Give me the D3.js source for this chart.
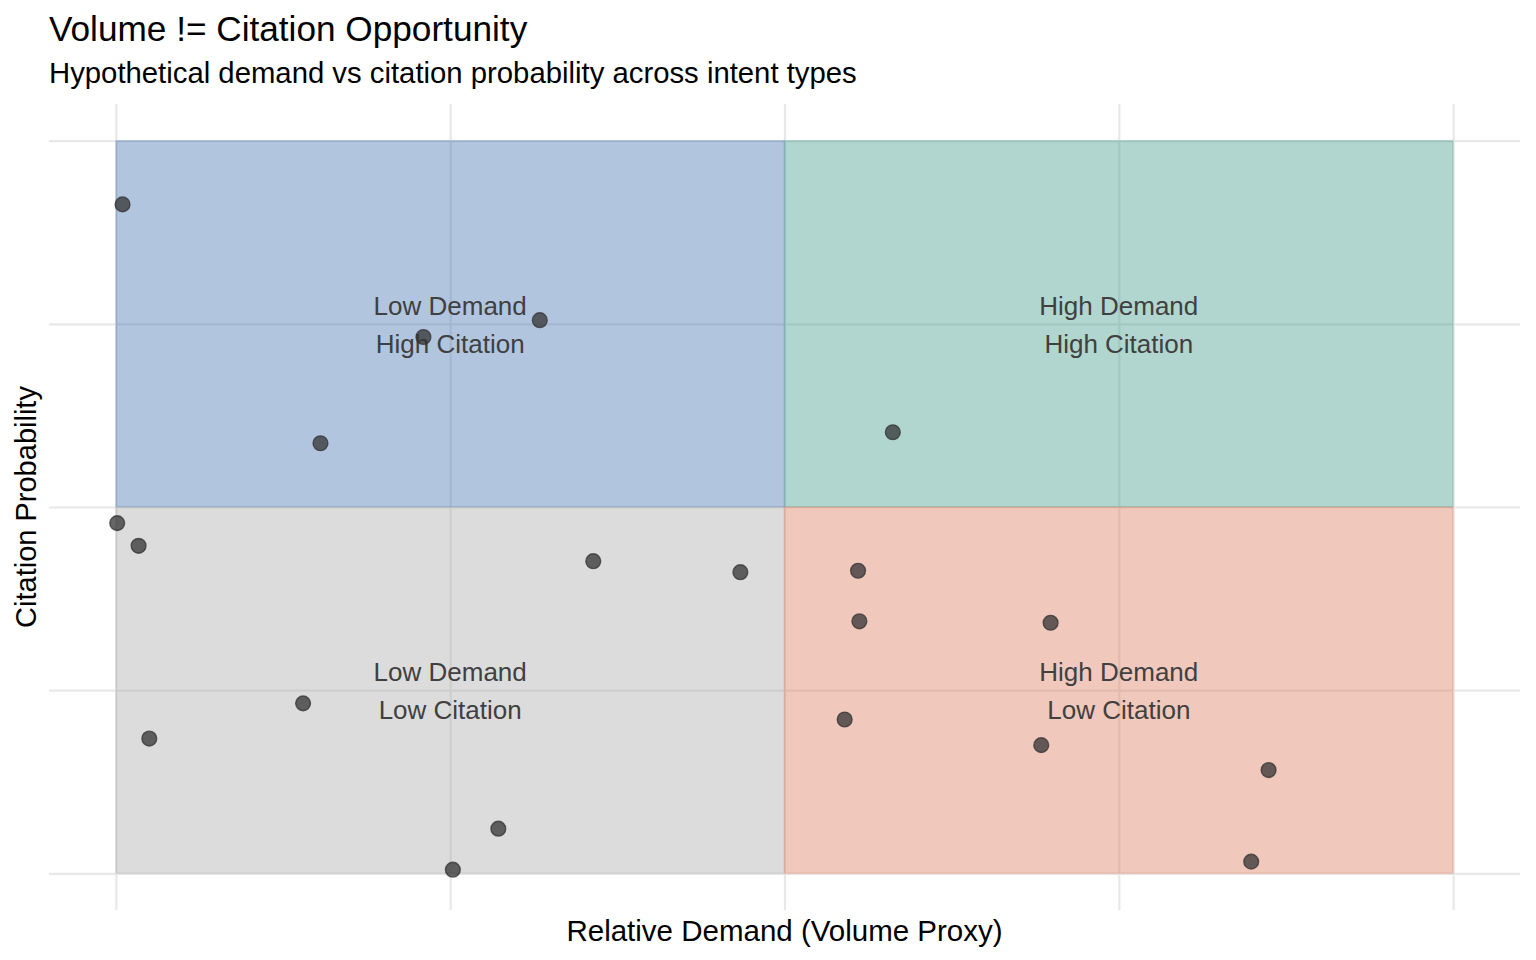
<!DOCTYPE html>
<html>
<head>
<meta charset="utf-8">
<script src="https://cdn.jsdelivr.net/npm/d3@7"></script>
<style>
  html, body { margin: 0; padding: 0; background: #fff; }
  svg { display: block; font-family: "Liberation Sans", Arial, Helvetica, sans-serif; }
</style>
</head>
<body>
<svg id="chart" width="1536" height="960"></svg>
<script>
// ---- data ----
const demand = [0.005, 0.317, 0.230, 0.153, 0.581, 0.001, 0.017, 0.357, 0.467, 0.555,
                0.556, 0.699, 0.140, 0.025, 0.545, 0.692, 0.862, 0.286, 0.252, 0.849];
const citation = [0.913, 0.755, 0.732, 0.587, 0.602, 0.478, 0.447, 0.426, 0.411, 0.413,
                  0.344, 0.342, 0.232, 0.184, 0.210, 0.175, 0.141, 0.061, 0.005, 0.016];
const quadNames = ["Low Demand\nHigh Citation", "High Demand\nHigh Citation",
                   "Low Demand\nLow Citation", "High Demand\nLow Citation"];
const quadX0 = [0, 0.5, 0, 0.5];
const quadX1 = [0.5, 1, 0.5, 1];
const quadY0 = [0.5, 0.5, 0, 0];
const quadY1 = [1, 1, 0.5, 0.5];
const quadLabelX = [0.25, 0.75, 0.25, 0.75];
const quadLabelY = [0.75, 0.75, 0.25, 0.25];
const quadColors = ["#3c6eaf", "#3c9887", "#a7a7a7", "#dc7657"];
const xTicks = [0, 0.25, 0.5, 0.75, 1];
const yTicks = [0, 0.25, 0.5, 0.75, 1];
const titleText = "Volume != Citation Opportunity";
const subtitleText = "Hypothetical demand vs citation probability across intent types";
const xTitle = "Relative Demand (Volume Proxy)";
const yTitle = "Citation Probability";

// ---- layout ----
const svg = d3.select("#chart");
const panel = { left: 49, right: 1520, top: 104, bottom: 910 };
const x = d3.scaleLinear().domain([-0.05, 1.05]).range([panel.left, panel.right]);
const y = d3.scaleLinear().domain([-0.05, 1.05]).range([panel.bottom, panel.top]);

// grid
const gx = svg.append("g").attr("transform", `translate(0,${panel.bottom})`)
  .call(d3.axisBottom(x).tickValues(xTicks).tickSize(-(panel.bottom - panel.top)).tickFormat(""));
const gy = svg.append("g").attr("transform", `translate(${panel.left},0)`)
  .call(d3.axisLeft(y).tickValues(yTicks).tickSize(-(panel.right - panel.left)).tickFormat(""));
[gx, gy].forEach(g => {
  g.select(".domain").remove();
  g.selectAll(".tick line").attr("stroke", "#e8e8e8").attr("stroke-width", 2.2);
});

// quadrants
const quads = d3.range(quadNames.length);
svg.append("g").selectAll("rect").data(quads).join("rect")
  .attr("x", i => x(quadX0[i]))
  .attr("y", i => y(quadY1[i]))
  .attr("width", i => x(quadX1[i]) - x(quadX0[i]))
  .attr("height", i => y(quadY0[i]) - y(quadY1[i]))
  .attr("fill", i => quadColors[i])
  .attr("fill-opacity", 0.4)
  .attr("stroke", i => quadColors[i])
  .attr("stroke-opacity", 0.18)
  .attr("stroke-width", 1.6);

// quadrant labels
const lbl = svg.append("g").selectAll("text").data(quads).join("text")
  .attr("text-anchor", "middle")
  .attr("font-size", 26)
  .attr("fill", "#404040");
lbl.each(function(i) {
  const lines = quadNames[i].split("\n");
  const cx = x(quadLabelX[i]), cy = y(quadLabelY[i]);
  d3.select(this).selectAll("tspan").data(lines).join("tspan")
    .attr("x", cx)
    .attr("y", (d, k) => cy - 9 + k * 38)
    .text(d => d);
});

// points
svg.append("g").selectAll("circle").data(d3.range(demand.length)).join("circle")
  .attr("cx", i => x(demand[i]))
  .attr("cy", i => y(citation[i]))
  .attr("r", 7.4)
  .attr("fill", "#333333")
  .attr("fill-opacity", 0.75)
  .attr("stroke", "#333333")
  .attr("stroke-opacity", 0.75)
  .attr("stroke-width", 1.4);

// titles
svg.append("text").attr("x", 49).attr("y", 41).attr("font-size", 35.2).attr("fill", "#000").text(titleText);
svg.append("text").attr("x", 49).attr("y", 83).attr("font-size", 29.3).attr("fill", "#000").text(subtitleText);
svg.append("text").attr("x", (panel.left + panel.right) / 2).attr("y", 941)
  .attr("text-anchor", "middle").attr("font-size", 29.5).attr("fill", "#000").text(xTitle);
svg.append("text").attr("transform", `translate(36,${(panel.top + panel.bottom) / 2}) rotate(-90)`)
  .attr("text-anchor", "middle").attr("font-size", 29).attr("fill", "#000").text(yTitle);
</script>
</body>
</html>
